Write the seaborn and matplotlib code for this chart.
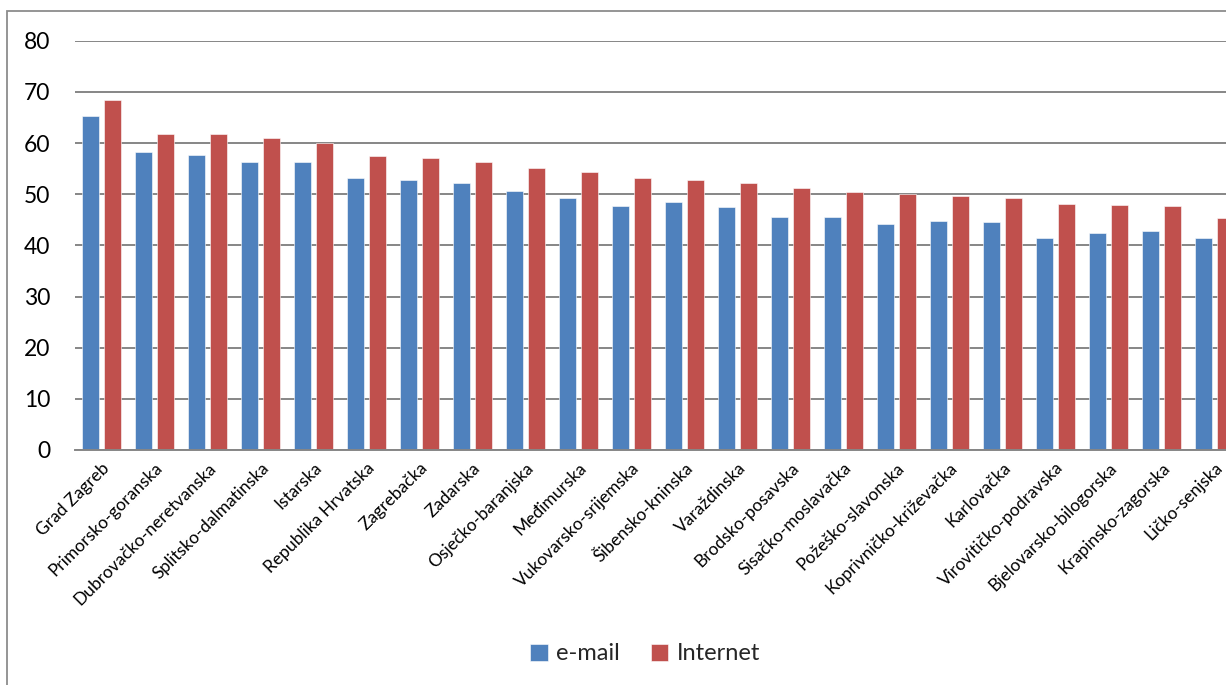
import matplotlib
matplotlib.use("Agg")
import matplotlib.pyplot as plt
import pandas as pd
import seaborn as sns
from matplotlib.patches import Rectangle

# Share of households using e-mail and the Internet, by county
counties = [
    "Grad Zagreb", "Primorsko-goranska", "Dubrovačko-neretvanska",
    "Splitsko-dalmatinska", "Istarska", "Republika Hrvatska", "Zagrebačka",
    "Zadarska", "Osječko-baranjska", "Međimurska", "Vukovarsko-srijemska",
    "Šibensko-kninska", "Varaždinska", "Brodsko-posavska",
    "Sisačko-moslavačka", "Požeško-slavonska", "Koprivničko-križevačka",
    "Karlovačka", "Virovitičko-podravska", "Bjelovarsko-bilogorska",
    "Krapinsko-zagorska", "Ličko-senjska",
]
email = [65.2, 58.2, 57.6, 56.3, 56.2, 53.2, 52.8, 52.2, 50.6, 49.2, 47.7,
         48.5, 47.4, 45.5, 45.5, 44.2, 44.7, 44.6, 41.4, 42.5, 42.9, 41.4]
internet = [68.4, 61.7, 61.7, 60.9, 60.0, 57.5, 57.1, 56.2, 55.1, 54.3, 53.1,
            52.8, 52.1, 51.2, 50.4, 50.0, 49.6, 49.3, 48.0, 47.8, 47.6, 45.4]
series = ["e-mail", "Internet"]
y_ticks = [0, 10, 20, 30, 40, 50, 60, 70, 80]

df = pd.DataFrame({
    "county": counties * 2,
    "series": [series[0]] * len(counties) + [series[1]] * len(counties),
    "value": email + internet,
})

sns.set_theme(style="white")
plt.rcParams["font.family"] = ["Lato", "DejaVu Sans"]

W, H = 1226, 685
fig = plt.figure(figsize=(W / 100, H / 100), dpi=100)

# Chart frame (runs off the right and bottom edges)
fig.patches.append(Rectangle((7 / W, -0.05), 1.2, 1 - 10.5 / H + 0.05,
                             transform=fig.transFigure, fill=False,
                             edgecolor="#8c8c8c", linewidth=1.3))

ax = fig.add_axes([75 / W, 1 - 450 / H, 1166 / W, (450 - 40.7) / H])
palette = {"e-mail": "#4f81bd", "Internet": "#c0504d"}
sns.barplot(data=df, x="county", y="value", hue="series", order=counties,
            hue_order=series, palette=palette, width=0.83, gap=0.21,
            saturation=1, edgecolor="white", linewidth=0.4, ax=ax,
            legend=True)

ax.set_ylim(0, 80)
ax.set_xlim(-0.5, len(counties) - 0.5)
ax.set_yticks(y_ticks)
ax.set_yticklabels([str(t) for t in y_ticks], fontsize=16.5, color="black")
ax.yaxis.grid(True, color="#868686", linewidth=1.4)
ax.set_axisbelow(True)
for side in ["left", "right", "top"]:
    ax.spines[side].set_visible(False)
ax.spines["bottom"].set_color("#868686")
ax.spines["bottom"].set_linewidth(1.4)
ax.tick_params(axis="y", length=0, pad=18)
ax.tick_params(axis="x", length=0, pad=7)
ax.set_xlabel("")
ax.set_ylabel("")
ax.set_xticks(range(len(counties)))
ax.set_xticklabels(counties, rotation=45, ha="right",
                   rotation_mode="anchor", fontsize=12.5, color="black")

handles, labels = ax.get_legend_handles_labels()
ax.get_legend().remove()
fig.legend(handles, labels, loc="center", bbox_to_anchor=(645 / W, 1 - 654 / H),
           ncol=2, frameon=False, fontsize=17, handlelength=0.75,
           handleheight=0.75, handletextpad=0.35, columnspacing=1.3)

fig.savefig("out.png", dpi=100)
